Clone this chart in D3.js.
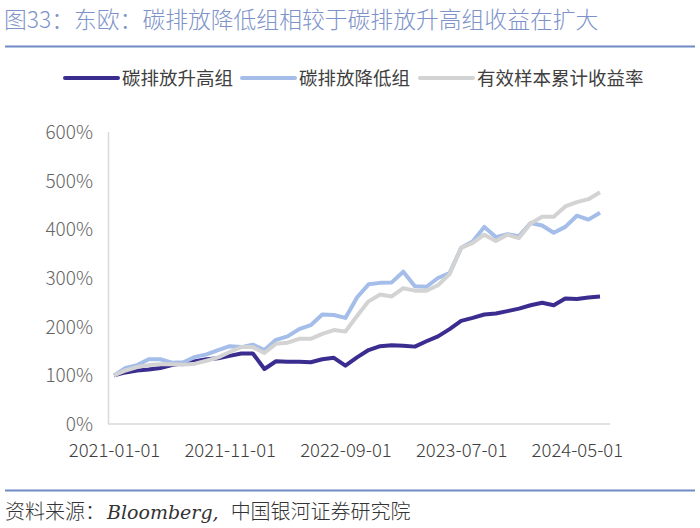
<!DOCTYPE html>
<html>
<head>
<meta charset="utf-8">
<script src="https://cdn.jsdelivr.net/npm/d3@7"></script>
<style>
  body { margin: 0; background: #fff; }
  svg { display: block; }
</style>
</head>
<body>
<div id="main"></div>
<script>
'use strict';

// month categories, 2021-01 .. 2024-07
var months = [
  '2021-01-01','2021-02-01','2021-03-01','2021-04-01','2021-05-01','2021-06-01',
  '2021-07-01','2021-08-01','2021-09-01','2021-10-01','2021-11-01','2021-12-01',
  '2022-01-01','2022-02-01','2022-03-01','2022-04-01','2022-05-01','2022-06-01',
  '2022-07-01','2022-08-01','2022-09-01','2022-10-01','2022-11-01','2022-12-01',
  '2023-01-01','2023-02-01','2023-03-01','2023-04-01','2023-05-01','2023-06-01',
  '2023-07-01','2023-08-01','2023-09-01','2023-10-01','2023-11-01','2023-12-01',
  '2024-01-01','2024-02-01','2024-03-01','2024-04-01','2024-05-01','2024-06-01',
  '2024-07-01'
];
var xTicks = ['2021-01-01','2021-11-01','2022-09-01','2023-07-01','2024-05-01'];
var yTicks = [0, 100, 200, 300, 400, 500, 600];

var seriesNames = ['碳排放升高组', '碳排放降低组', '有效样本累计收益率'];

// cumulative return, %
var highGroup = [100,106,110,112,115,121,125,129,133,135,140,145,145,113,129,128,128,127,133,136,
  120,137,152,160,162,161,159,170,180,195,212,218,225,227,232,237,244,249,244,258,257,260,262];
var lowGroup = [100,115,121,133,133,126,127,138,143,152,160,158,163,152,173,180,195,203,225,224,
  218,260,287,290,291,313,283,282,300,310,362,375,405,384,390,386,413,408,393,405,428,420,434];
var allSample = [100,110,117,121,123,123,122,124,130,137,148,158,158,146,165,167,175,175,185,193,
  190,222,252,266,262,279,274,274,285,308,362,372,389,376,389,382,412,426,426,447,456,462,476];

var colors = ['#3b2d8f', '#a4bde9', '#d3d3d3'];
var allSeries = [highGroup, lowGroup, allSample];

var width = 700;
var height = 528;
var cjk = '"Noto Sans CJK SC", "Noto Sans", sans-serif';

var svg = d3.select('#main').append('svg')
  .attr('width', width)
  .attr('height', height);

// title + rule
svg.append('text')
  .attr('x', 4)
  .attr('y', 28)
  .attr('font-family', cjk)
  .attr('font-weight', 300)
  .attr('font-size', '22.8px')
  .attr('fill', '#7d92c9')
  .text('图33：东欧：碳排放降低组相较于碳排放升高组收益在扩大');

svg.append('line')
  .attr('x1', 5).attr('x2', 695)
  .attr('y1', 46.5).attr('y2', 46.5)
  .style('stroke', '#6f8ac4')
  .style('stroke-width', 2);

// legend
var legendX = [65, 242, 420];
var legend = svg.append('g');
seriesNames.forEach(function (name, i) {
  legend.append('line')
    .attr('x1', legendX[i]).attr('x2', legendX[i] + 53)
    .attr('y1', 78).attr('y2', 78)
    .style('stroke', colors[i])
    .style('stroke-width', 4)
    .style('stroke-linecap', 'round');
  legend.append('text')
    .attr('x', legendX[i] + 57)
    .attr('y', 84.5)
    .attr('font-family', cjk)
    .attr('font-size', '18.5px')
    .attr('fill', '#404040')
    .text(name);
});

// scales
var x = d3.scalePoint().domain(months).range([114, 600]);
var y = d3.scaleLinear().domain([0, 600]).range([424, 132]);

// axes lines
svg.append('line')
  .attr('x1', 108.5).attr('x2', 108.5)
  .attr('y1', y(600)).attr('y2', y(0))
  .style('stroke', '#d9d9d9').style('stroke-width', 1.5);
svg.append('line')
  .attr('x1', 108).attr('x2', 610)
  .attr('y1', y(0)).attr('y2', y(0))
  .style('stroke', '#d9d9d9').style('stroke-width', 1.5);

var yAxis = svg.append('g')
  .attr('transform', 'translate(96,0)')
  .call(d3.axisLeft(y).tickValues(yTicks).tickSize(0).tickFormat(function (d) { return d + '%'; }));
yAxis.select('.domain').remove();
yAxis.selectAll('text')
  .attr('font-family', cjk)
  .attr('font-weight', 300)
  .attr('font-size', '19px')
  .attr('fill', '#666')
  .attr('dy', '0.35em');

var xAxis = svg.append('g')
  .attr('transform', 'translate(0,' + 440 + ')')
  .call(d3.axisBottom(x).tickValues(xTicks).tickSize(0));
xAxis.select('.domain').remove();
xAxis.selectAll('text')
  .attr('font-family', cjk)
  .attr('font-weight', 300)
  .attr('font-size', '18.5px')
  .attr('fill', '#404040')
  .attr('dy', '0.75em');

// lines: purple, blue, then gray on top
var line = d3.line()
  .x(function (d, i) { return x(months[i]); })
  .y(function (d) { return y(d); });

allSeries.forEach(function (s, k) {
  svg.append('path')
    .datum(s)
    .attr('d', line)
    .style('fill', 'none')
    .style('stroke', colors[k])
    .style('stroke-width', 4)
    .style('stroke-linejoin', 'round');
});

// source
svg.append('line')
  .attr('x1', 5).attr('x2', 695)
  .attr('y1', 490.5).attr('y2', 490.5)
  .style('stroke', '#6f8ac4')
  .style('stroke-width', 2);

var src = svg.append('text')
  .attr('x', 5)
  .attr('y', 519)
  .attr('font-size', '20px')
  .attr('fill', '#333');
src.append('tspan').attr('font-family', cjk).attr('font-weight', 300).text('资料来源：');
src.append('tspan').attr('font-family', '"DejaVu Serif", serif').attr('font-style', 'italic')
  .attr('font-weight', 300).attr('font-size', '19px').attr('dx', 2).text('Bloomberg,');
src.append('tspan').attr('font-family', cjk).attr('font-weight', 300).attr('dx', 12).text('中国银河证券研究院');
</script>
</body>
</html>
